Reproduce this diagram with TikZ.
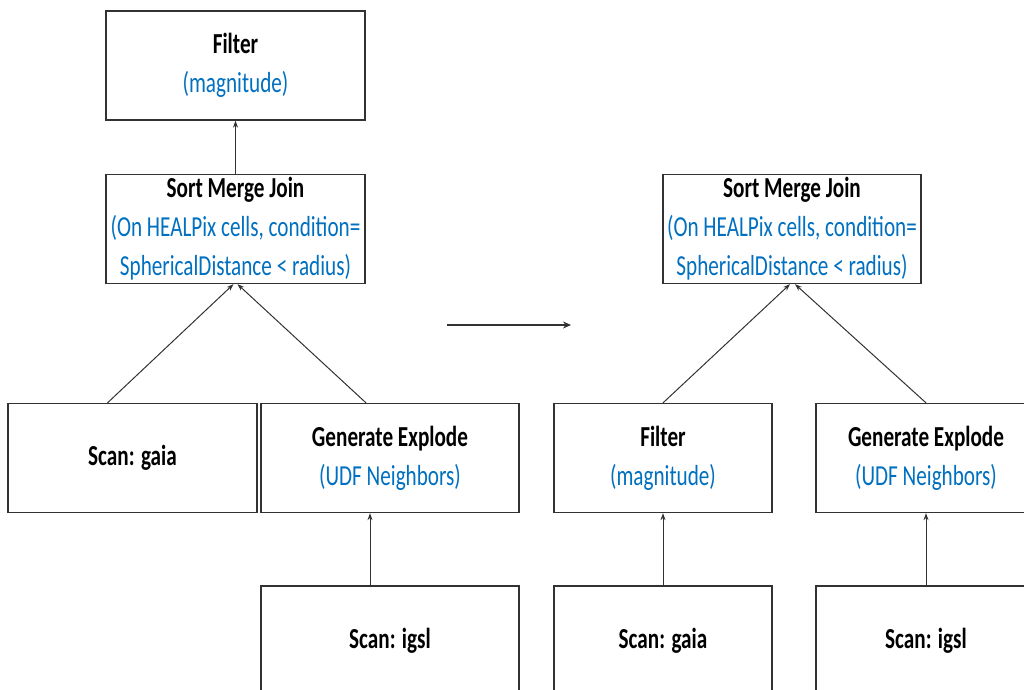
\documentclass[tikz,border=0pt]{standalone}
\usepackage{fontspec}
\setmainfont{Carlito}[FakeStretch=0.73]
\usetikzlibrary{arrows.meta}
\definecolor{txtblue}{RGB}{0,112,192}
\definecolor{edgegray}{RGB}{50,50,50}
\begin{document}
\begin{tikzpicture}[x=1pt,y=-1pt,
  opbox/.style={draw=edgegray, line width=1.3pt, fill=white, inner sep=0pt, align=center,
    font=\fontsize{29}{39}\selectfont, minimum height=109pt,
    execute at begin node={\vspace*{5pt}}},
  conn/.style={draw=edgegray, line width=1pt, -{Stealth[length=7pt,width=5pt]}},
  bigconn/.style={draw=edgegray, line width=1.2pt, -{Stealth[length=8pt,width=7pt]}}
]
\useasboundingbox (0,0) rectangle (1024,689);
% left plan
\node[opbox, minimum width=259pt] (ftop) at (235.5,65.5) {\textbf{Filter}\\\textcolor{txtblue}{(magnitude)}};
\node[opbox, minimum width=259pt] (smjL) at (235.5,229) {\textbf{Sort Merge Join}\\\textcolor{txtblue}{(On HEALPix cells, condition=}\\\textcolor{txtblue}{SphericalDistance < radius)}};
\node[opbox, minimum width=249pt] (gaiaL) at (132.5,458) {\textbf{Scan: gaia}};
\node[opbox, minimum width=258pt] (genL) at (390,458) {\textbf{Generate Explode}\\\textcolor{txtblue}{(UDF Neighbors)}};
\node[opbox, minimum width=258pt, minimum height=110pt] (igslL) at (390,641) {\textbf{Scan: igsl}};
% right plan
\node[opbox, minimum width=258pt] (smjR) at (792,229) {\textbf{Sort Merge Join}\\\textcolor{txtblue}{(On HEALPix cells, condition=}\\\textcolor{txtblue}{SphericalDistance < radius)}};
\node[opbox, minimum width=218pt] (filtR) at (663,458) {\textbf{Filter}\\\textcolor{txtblue}{(magnitude)}};
\node[opbox, minimum width=220pt] (genR) at (926,458) {\textbf{Generate Explode}\\\textcolor{txtblue}{(UDF Neighbors)}};
\node[opbox, minimum width=218pt, minimum height=110pt] (gaiaR) at (663,641) {\textbf{Scan: gaia}};
\node[opbox, minimum width=220pt, minimum height=110pt] (igslR) at (926,641) {\textbf{Scan: igsl}};
% connectors left
\draw[conn] (smjL.north) -- (ftop.south);
\draw[conn] ([xshift=-25pt]gaiaL.north) -- ([xshift=-2pt]smjL.south);
\draw[conn] ([xshift=-24pt]genL.north) -- ([xshift=2pt]smjL.south);
\draw[conn] ([xshift=-20pt]igslL.north) -- ([xshift=-20pt]genL.south);
% connectors right
\draw[conn] (filtR.north) -- ([xshift=-2pt]smjR.south);
\draw[conn] (genR.north) -- ([xshift=3pt]smjR.south);
\draw[conn] (gaiaR.north) -- (filtR.south);
\draw[conn] (igslR.north) -- (genR.south);
% transformation arrow
\coordinate (a1) at (447,325);
\coordinate (a2) at (571,325);
\draw[bigconn] (a1) -- (a2);
\end{tikzpicture}
\end{document}
